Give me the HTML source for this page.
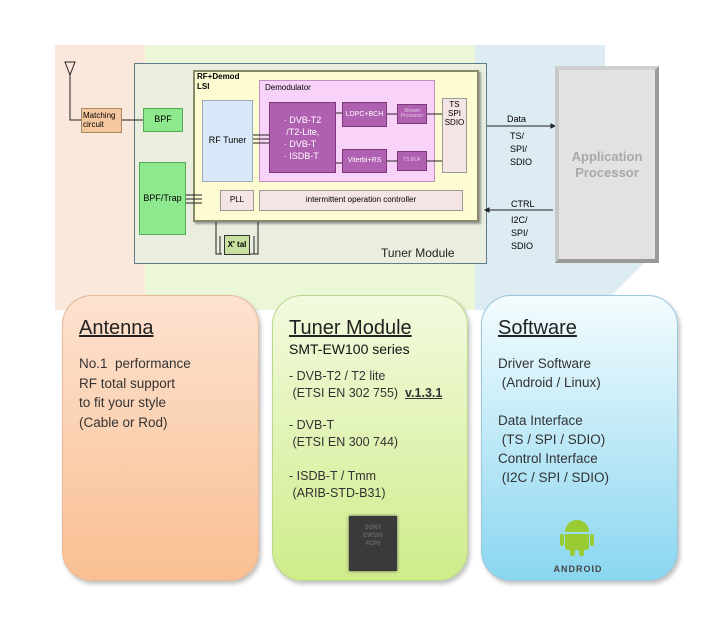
<!DOCTYPE html>
<html><head><meta charset="utf-8"><style>
body{margin:0;width:719px;height:629px;background:#fff;position:relative;overflow:hidden;font-family:"Liberation Sans","Noto Sans CJK JP",sans-serif}
div{position:absolute;box-sizing:border-box}
.b{font-size:8px;text-align:center;display:flex;align-items:center;justify-content:center;line-height:1.1}
.card{border-radius:30px;box-shadow:2px 3px 4px rgba(0,0,0,.25);padding:20px 0 0 16px;font-size:13.5px;color:#333;line-height:19.5px}
.card h2{margin:0 0 14px;font-size:20px;font-weight:normal;text-decoration:underline;color:#222;line-height:24px}
</style></head><body>
<div style="left:55px;top:45px;width:95px;height:265px;background:#fbe8dc"></div>
<div style="left:145px;top:45px;width:330px;height:265px;background:#ecf7d8"></div>
<div style="left:475px;top:45px;width:130px;height:265px;background:#dcecf2"></div>
<div style="left:605px;top:255px;width:60px;height:55px;background:linear-gradient(135deg,#dcecf2 40%,#fff 42%)"></div>

<div style="left:134px;top:63px;width:353px;height:201px;background:#e9eedf;border:1.5px solid #5d7d8c"></div>
<div style="left:381px;top:246px;font-size:12px;color:#222">Tuner Module</div>
<div style="left:193px;top:70px;width:286px;height:152px;background:#fdfbd2;border:2px solid #8a8a6a;box-shadow:2px 2px 2px #999"></div>
<div style="left:197px;top:72px;font-size:8px;font-weight:bold;line-height:10px">RF+Demod<br>LSI</div>
<div style="left:259px;top:80px;width:176px;height:102px;background:#f8d2f8;border:1.5px solid #c090c0"></div>
<div style="left:265px;top:83px;font-size:8px">Demodulator</div>
<div class="b" style="left:269px;top:102px;width:67px;height:71px;background:#b060b0;border:1.5px solid #7a3a7a;color:#fff;font-size:9px;text-align:left;line-height:12px">· DVB-T2<br>&nbsp;/T2-Lite,<br>· DVB-T<br>· ISDB-T</div>
<div class="b" style="left:342px;top:102px;width:45px;height:25px;background:#b060b0;border:1px solid #7a3a7a;color:#fff;font-size:7px">LDPC+BCH</div>
<div class="b" style="left:397px;top:104px;width:30px;height:20px;background:#b060b0;border:1px solid #7a3a7a;color:#e8c8e8;font-size:5px">Stream Processor</div>
<div class="b" style="left:342px;top:149px;width:45px;height:24px;background:#b060b0;border:1px solid #7a3a7a;color:#fff;font-size:7px">Viterbi+RS</div>
<div class="b" style="left:397px;top:151px;width:30px;height:20px;background:#b060b0;border:1px solid #7a3a7a;color:#e8c8e8;font-size:5px">TS BUF</div>
<div class="b" style="left:442px;top:98px;width:25px;height:75px;background:#f5e4e4;border:1px solid #999;align-items:flex-start;padding-top:2px;font-size:8px">TS<br>SPI<br>SDIO</div>
<div class="b" style="left:202px;top:100px;width:51px;height:82px;background:#d8e8f8;border:1.5px solid #9ab;font-size:9px">RF Tuner</div>
<div class="b" style="left:220px;top:190px;width:34px;height:21px;background:#f5e4e4;border:1px solid #999">PLL</div>
<div class="b" style="left:259px;top:190px;width:204px;height:21px;background:#f5e4e4;border:1px solid #999">intermittent operation controller</div>
<div class="b" style="left:143px;top:108px;width:40px;height:24px;background:#8ee88e;border:1.5px solid #5a5;font-size:9px">BPF</div>
<div class="b" style="left:139px;top:162px;width:47px;height:73px;background:#8ee88e;border:1.5px solid #5a5;font-size:9px">BPF/Trap</div>
<div class="b" style="left:81px;top:108px;width:41px;height:25px;background:#f6c8a0;border:1px solid #a86;text-align:left;justify-content:flex-start;padding-left:1px">Matching<br>circuit</div>
<div class="b" style="left:224px;top:235px;width:26px;height:20px;background:#c8e0a0;border:1.5px solid #333;font-size:8px;font-weight:bold">X' tal</div>

<svg width="719" height="629" style="position:absolute;left:0;top:0" fill="none" stroke="#222" stroke-width="1">
<path d="M65 62 L75 62 L70 75 Z M70 75 V120 H81 M122 120 H143"/>
<path d="M253 135 H269 M253 139 H269 M253 143 H269 M336 113 H342 M336 163 H342 M387 114 H397 M387 161 H397 M427 114 H442 M427 161 H442"/>
<path d="M202 195 H186 M202 199 H186 M202 203 H186"/>
<path d="M216 222 V254 H222 M258 222 V254 H250 M220 236 V254 M254 236 V254"/>
<path d="M487 126 H551 M553 210 H489"/>
<path d="M551 124 L555 126 L551 128Z M489 208 L485 210 L489 212Z" fill="#222"/>
</svg>
<div style="left:507px;top:113px;font-size:9px;line-height:12px">Data</div>
<div style="left:510px;top:130px;font-size:9px;line-height:13px">TS/<br>SPI/<br>SDIO</div>
<div style="left:511px;top:198px;font-size:9px;line-height:12px">CTRL</div>
<div style="left:511px;top:214px;font-size:9px;line-height:13px">I2C/<br>SPI/<br>SDIO</div>
<div class="b" style="left:555px;top:66px;width:104px;height:197px;background:#e2e2e2;border:4px solid;border-color:#d0d0d0 #999 #999 #c8c8c8;color:#a8a8a8;font-weight:bold;font-size:13px;line-height:16px">Application<br>Processor</div>

<div class="card" style="left:62px;top:295px;width:197px;height:286px;background:linear-gradient(#fde2d0,#f9bf92);border:1px solid #e8b898">
<h2>Antenna</h2>No.1 &nbsp;performance<br>RF total support<br>to fit your style<br>(Cable or Rod)</div>
<div class="card" style="left:272px;top:295px;width:196px;height:286px;background:linear-gradient(#f3fadf,#cfec8a);border:1px solid #b8d890;font-size:12.5px;line-height:17px">
<h2 style="margin:0">Tuner Module</h2><div style="position:static;font-size:14px;margin:0 0 10px;color:#111;line-height:18px">SMT-EW100 series</div>
- DVB-T2 / T2 lite<br>&nbsp;(ETSI EN 302 755) &nbsp;<b><u>v.1.3.1</u></b><br><div style="position:static;height:15px"></div>- DVB-T<br>&nbsp;(ETSI EN 300 744)<br><div style="position:static;height:17px"></div>- ISDB-T / Tmm<br>&nbsp;(ARIB-STD-B31)
<div style="left:76px;top:220px;width:48px;height:55px;background:#3a3a3a;box-shadow:0 0 3px #555;color:#666;font-size:6px;font-weight:bold;text-align:center;line-height:8px;padding-top:8px">SONY<br>EW100<br>4CP0</div></div>
<div class="card" style="left:481px;top:295px;width:197px;height:286px;background:linear-gradient(#f4fcfe,#8ad6f0);border:1px solid #9cc8dc;line-height:19px">
<h2>Software</h2><div style="position:static;margin-top:14px">Driver Software<br>&nbsp;(Android / Linux)<br><br>Data Interface<br>&nbsp;(TS / SPI / SDIO)<br>Control Interface<br>&nbsp;(I2C / SPI / SDIO)</div>
<div style="left:83px;top:224px;width:24px;height:12px;background:#9c3;border-radius:12px 12px 0 0"></div>
<div style="left:83px;top:238px;width:24px;height:16px;background:#9c3;border-radius:0 0 3px 3px"></div>
<div style="left:78px;top:238px;width:4px;height:12px;background:#9c3;border-radius:2px"></div>
<div style="left:108px;top:238px;width:4px;height:12px;background:#9c3;border-radius:2px"></div>
<div style="left:88px;top:252px;width:5px;height:8px;background:#9c3;border-radius:2px"></div>
<div style="left:97px;top:252px;width:5px;height:8px;background:#9c3;border-radius:2px"></div>
<div style="left:68px;top:264px;width:56px;text-align:center;font-size:9px;font-weight:bold;color:#444;letter-spacing:1px">ANDROID</div></div>
</body></html>
